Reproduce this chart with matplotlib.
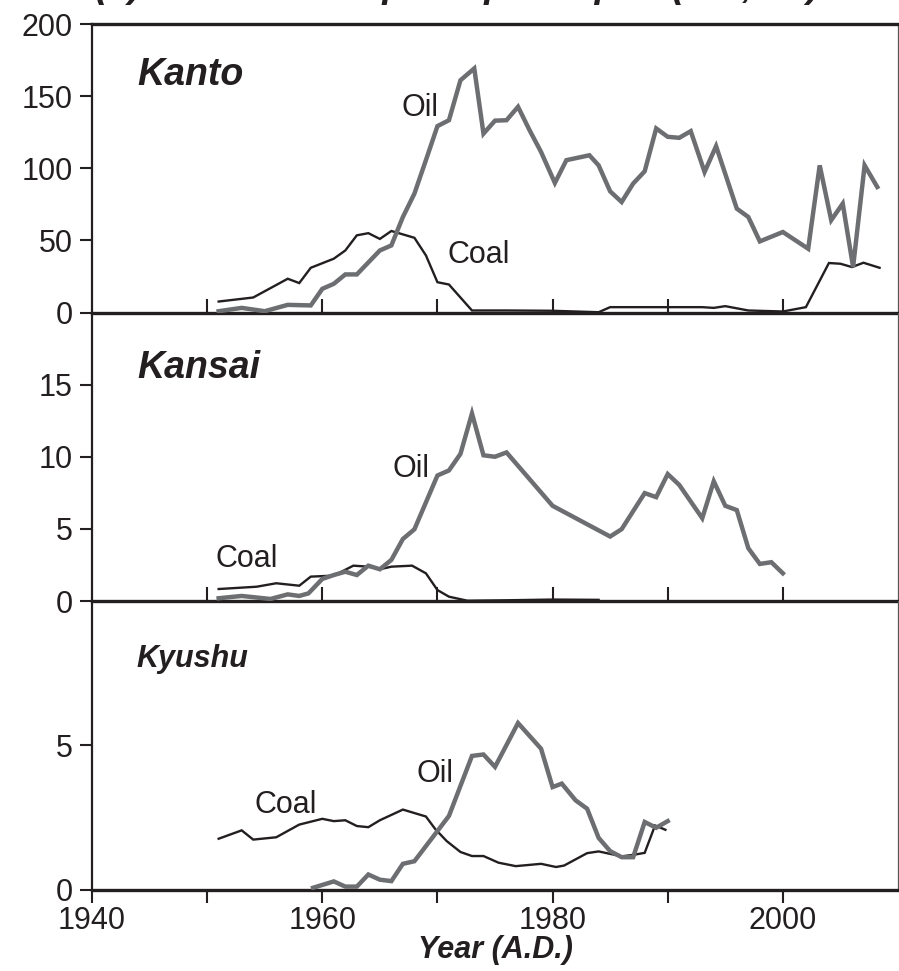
import matplotlib
matplotlib.use('Agg')
import matplotlib.pyplot as plt

plt.rcParams['font.family'] = ['Liberation Sans', 'DejaVu Sans']

BLACK = '#231f20'
GREY = '#6d6e71'

# Kanto
kanto_coal_yr = [1951, 1954, 1957, 1958, 1959, 1961, 1962, 1963, 1964, 1965, 1966, 1968,
                 1969, 1970, 1971, 1973, 1976, 1980, 1984, 1985, 1990, 1993, 1994, 1995,
                 1997, 2000, 2002, 2004, 2005, 2006, 2007, 2008.4]
kanto_coal = [7.6, 10.4, 23.4, 20.4, 31, 37.3, 43, 53.5, 55, 51, 56.5, 51.8,
              39.6, 21, 19.4, 1.4, 1.4, 1.2, 0.2, 3.7, 3.7, 3.7, 3.2, 4.4,
              1.4, 0.7, 3.7, 34.3, 33.8, 31.5, 34.5, 31]
kanto_oil_yr = [1951, 1953, 1955, 1957, 1959, 1960, 1961, 1962, 1963, 1965, 1966, 1967,
                1968, 1969, 1970, 1971, 1972, 1973.2, 1974, 1975, 1976, 1977, 1978, 1979,
                1980.2, 1981.2, 1983.2, 1984, 1985, 1986, 1987, 1988, 1989, 1990, 1991, 1992,
                1993.2, 1994.2, 1996, 1997, 1998, 2000, 2002.2, 2003.2, 2004.2, 2005.2, 2006.1,
                2007.1, 2008.2]
kanto_oil = [0.9, 3.2, 0.9, 5.3, 4.9, 16.4, 19.9, 26.4, 26.4, 43, 46.5, 66.2,
             82.4, 105.6, 129.2, 133.3, 161, 169.2, 124, 133, 133.3, 142.6, 126.4, 111.3,
             89.8, 105.6, 109, 102, 84, 76.6, 89.4, 97.9, 127.6, 121.8, 121.1, 125.7,
             97.4, 115.3, 72, 66.2, 49.3, 55.8, 44.2, 102, 64, 75.5, 31.5,
             102, 87]

# Kansai
kansai_coal_yr = [1951, 1954.3, 1956, 1958, 1959, 1961, 1962.7, 1964, 1965, 1966, 1967.8,
                  1969, 1970, 1971, 1972.6, 1976, 1980, 1984]
kansai_coal = [0.83, 0.99, 1.23, 1.06, 1.69, 1.76, 2.45, 2.38, 2.2, 2.38, 2.45,
               1.92, 0.76, 0.3, 0.02, 0.05, 0.1, 0.08]
kansai_oil_yr = [1951, 1953, 1955.5, 1957, 1958, 1958.8, 1960, 1961, 1962, 1963, 1964,
                 1965, 1966, 1967, 1968, 1970, 1971, 1972, 1973, 1974, 1975, 1976,
                 1980, 1985, 1986, 1988, 1989, 1990, 1991, 1993, 1994, 1995, 1996,
                 1997, 1998, 1999, 2000]
kansai_oil = [0.19, 0.35, 0.14, 0.46, 0.35, 0.53, 1.53, 1.8, 2.03, 1.8, 2.45,
              2.2, 2.85, 4.3, 4.97, 8.7, 9.05, 10.2, 13.0, 10.1, 10.0, 10.3,
              6.6, 4.47, 4.98, 7.48, 7.2, 8.8, 8.05, 5.74, 8.3, 6.6, 6.3,
              3.66, 2.57, 2.69, 1.92]

# Kyushu
kyushu_coal_yr = [1951, 1953, 1954, 1956, 1958, 1960, 1961, 1962, 1963, 1964, 1965, 1967,
                  1969, 1969.8, 1970.8, 1972, 1973, 1974, 1975.3, 1976.8, 1979, 1980.3,
                  1981, 1983, 1984, 1986, 1987, 1988, 1988.9, 1989.8]
kyushu_coal = [1.76, 2.05, 1.73, 1.81, 2.25, 2.45, 2.37, 2.4, 2.2, 2.16, 2.4, 2.77,
               2.53, 2.1, 1.68, 1.3, 1.16, 1.16, 0.93, 0.81, 0.89, 0.78,
               0.83, 1.26, 1.32, 1.15, 1.2, 1.27, 2.22, 2.07]
kyushu_oil_yr = [1959.2, 1961, 1962, 1963, 1964, 1965, 1966, 1967, 1968, 1971, 1973,
                 1974, 1975, 1977, 1979, 1980, 1980.8, 1982, 1983, 1984, 1985, 1986,
                 1987, 1988, 1989, 1990]
kyushu_oil = [0.06, 0.28, 0.1, 0.1, 0.52, 0.34, 0.29, 0.89, 0.98, 2.55, 4.63,
              4.68, 4.25, 5.77, 4.88, 3.55, 3.67, 3.09, 2.8, 1.79, 1.33, 1.12,
              1.12, 2.34, 2.14, 2.37]

W, H = 899, 971
fig = plt.figure(figsize=(W / 100, H / 100), dpi=100)

x0, x1 = 92, 898
panel_h = 288.5
tops = [24, 24 + panel_h, 24 + 2 * panel_h]
axes = []
for t in tops:
    ax = fig.add_axes([x0 / W, 1 - (t + panel_h) / H, (x1 - x0) / W, panel_h / H])
    axes.append(ax)
ax_kanto, ax_kansai, ax_kyushu = axes

panels = [
    (ax_kanto, kanto_coal_yr, kanto_coal, kanto_oil_yr, kanto_oil, 200, [0, 50, 100, 150, 200]),
    (ax_kansai, kansai_coal_yr, kansai_coal, kansai_oil_yr, kansai_oil, 20, [0, 5, 10, 15]),
    (ax_kyushu, kyushu_coal_yr, kyushu_coal, kyushu_oil_yr, kyushu_oil, 10, [0, 5]),
]

for i, (ax, cy, cv, oy, ov, ymax, yt) in enumerate(panels):
    ax.plot(cy, cv, color=BLACK, lw=1.7, solid_joinstyle='miter', zorder=3)
    ax.plot(oy, ov, color=GREY, lw=3.2, solid_joinstyle='miter', zorder=4)
    ax.set_xlim(1940, 2010)
    ax.set_ylim(0, ymax)
    ax.set_yticks(yt)
    ax.tick_params(axis='y', direction='out', length=9, width=1.5, color=BLACK,
                   labelsize=22, pad=5, labelcolor=BLACK)
    ax.spines['left'].set_linewidth(1.6)
    ax.spines['left'].set_color(BLACK)
    ax.spines['bottom'].set_linewidth(2.4)
    ax.spines['bottom'].set_color(BLACK)
    ax.spines['right'].set_linewidth(0.9)
    ax.spines['right'].set_color('#555555')
    if i == 0:
        ax.spines['top'].set_linewidth(2.4)
        ax.spines['top'].set_color(BLACK)
    else:
        ax.spines['top'].set_visible(False)
    ax.patch.set_alpha(0)

# inner panels: ticks pointing up from the baseline
for ax in (ax_kanto, ax_kansai):
    ax.set_xticks(range(1950, 2001, 10))
    ax.tick_params(axis='x', direction='in', length=10, width=1.5, color=BLACK,
                   labelbottom=False)

ax_kyushu.set_xticks([1940, 1960, 1980, 2000])
ax_kyushu.set_xticks([1950, 1970, 1990], minor=True)
ax_kyushu.tick_params(axis='x', which='both', direction='out', length=9, width=1.5,
                      color=BLACK, labelsize=22, pad=3, labelcolor=BLACK)
ax_kyushu.set_xlabel('Year (A.D.)', fontsize=22, fontweight='bold', fontstyle='italic',
                     color=BLACK, labelpad=-1)

# region names
bi = dict(fontweight='bold', fontstyle='italic', color=BLACK, ha='left', va='baseline')
ax_kanto.text(1943.9, 157.5, 'Kanto', fontsize=27, **bi)
ax_kansai.text(1943.9, 15.45, 'Kansai', fontsize=27, **bi)
ax_kyushu.text(1943.9, 7.7, 'Kyushu', fontsize=22, **bi)

# curve labels
lab = dict(fontsize=22, color=BLACK, ha='left', va='baseline')
ax_kanto.text(1966.9, 136.5, 'Oil', **lab)
ax_kanto.text(1970.9, 34, 'Coal', **lab)
ax_kansai.text(1966.1, 8.6, 'Oil', **lab)
ax_kansai.text(1950.7, 2.36, 'Coal', **lab)
ax_kyushu.text(1968.2, 3.72, 'Oil', **lab)
ax_kyushu.text(1954.1, 2.64, 'Coal', **lab)

fig.text(95 / W, 1 + 3 / H, '(c) Fuel consumption per capita (ton, kL)', fontsize=27,
         fontweight='bold', fontstyle='italic', color=BLACK, ha='left', va='baseline')

fig.savefig('out.png', dpi=100)
